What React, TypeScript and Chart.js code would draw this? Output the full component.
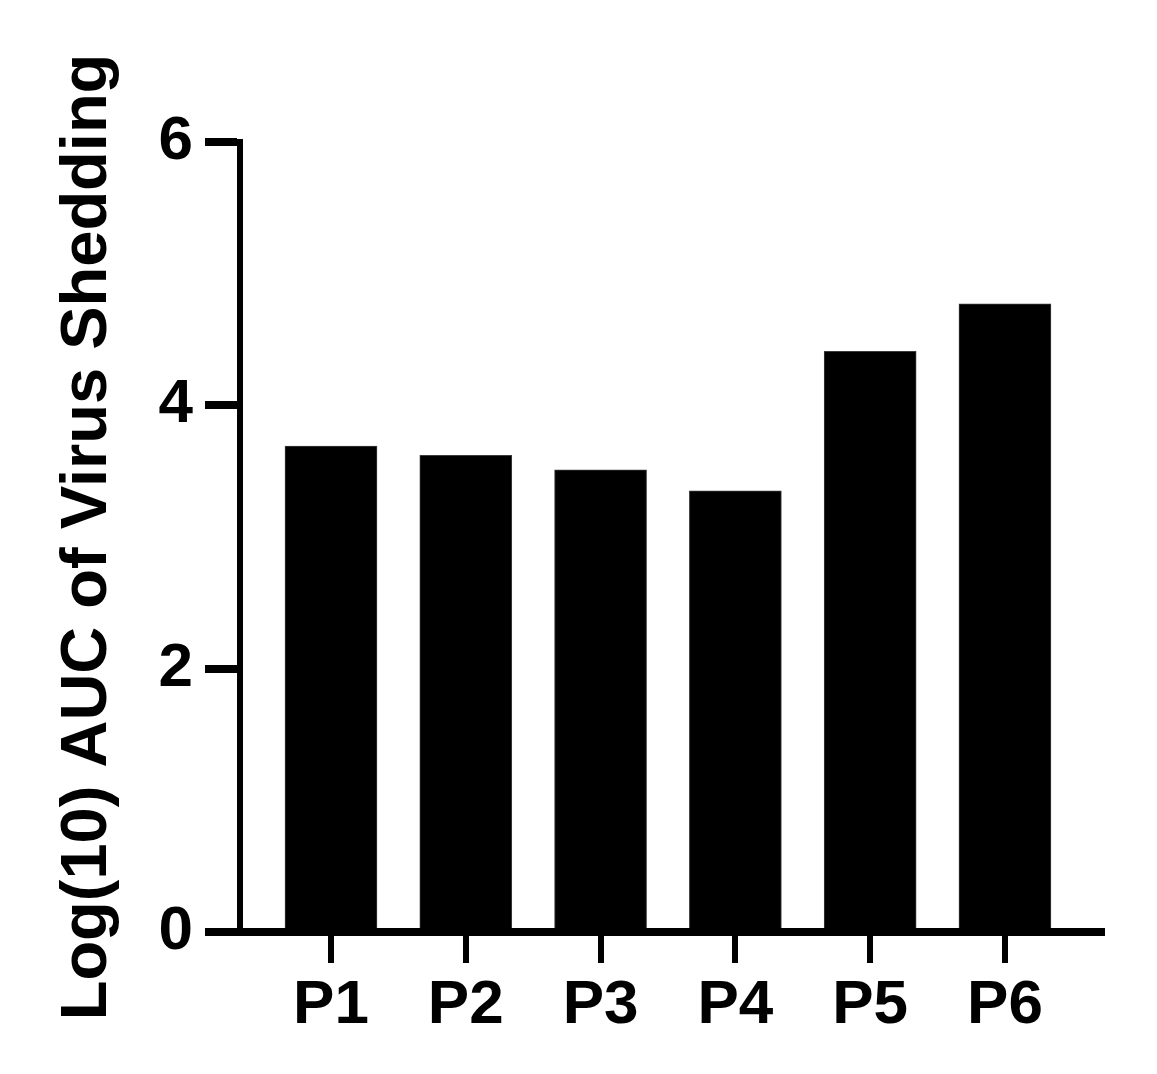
import React, { useEffect, useRef } from "react";
import { Chart, registerables } from "chart.js";

Chart.register(...registerables);

const categories = ["P1", "P2", "P3", "P4", "P5", "P6"];
const values = [3.69, 3.62, 3.51, 3.35, 4.41, 4.77];
const yTicks = [0, 2, 4, 6];
const yTitle = "Log(10) AUC of Virus Shedding";

const FONT = "'Liberation Sans', Arial, Helvetica, sans-serif";

export default function App() {
  const ref = useRef<HTMLCanvasElement | null>(null);

  useEffect(() => {
    if (!ref.current) return;
    const chart = new Chart(ref.current, {
      type: "bar",
      data: {
        datasets: [
          {
            data: values.map((v, i) => ({ x: i + 1, y: v })),
            backgroundColor: "#000000",
            borderColor: "#3a3a3a",
            borderWidth: 1,
            barThickness: 92,
          },
        ],
      },
      options: {
        responsive: false,
        animation: false,
        layout: { padding: { top: 134, right: 47, left: 0, bottom: 0 } },
        plugins: { legend: { display: false }, tooltip: { enabled: false } },
        scales: {
          x: {
            type: "linear",
            offset: false,
            min: 0.325,
            max: 6.72,
            afterFit: (s: any) => {
              s.height = 134;
            },
            afterBuildTicks: (s: any) => {
              s.ticks = categories.map((_, i) => ({ value: i + 1 }));
            },
            ticks: {
              callback: (v: any) => categories[Math.round(Number(v)) - 1] ?? "",
              color: "#000",
              font: { family: FONT, size: 62, weight: "bold" },
              padding: 6,
              maxRotation: 0,
              autoSkip: false,
            },
            grid: {
              offset: false,
              drawOnChartArea: false,
              drawTicks: true,
              tickLength: 31,
              tickWidth: 6,
              tickColor: "#000",
              lineWidth: 6,
              color: "#000",
            },
            border: { display: true, color: "#000", width: 8 },
          },
          y: {
            min: 0,
            max: 6,
            afterFit: (s: any) => {
              s.width = 232;
            },
            afterBuildTicks: (s: any) => {
              s.ticks = yTicks.map((v) => ({ value: v }));
            },
            ticks: {
              color: "#000",
              font: { family: FONT, size: 62, weight: "bold" },
              padding: 12,
            },
            grid: {
              drawOnChartArea: false,
              drawTicks: true,
              tickLength: 35,
              tickWidth: 8,
              tickColor: "#000",
              lineWidth: 8,
              color: "#000",
            },
            border: { display: true, color: "#000", width: 6 },
            title: {
              display: true,
              text: yTitle,
              color: "#000",
              font: { family: FONT, size: 65, weight: "bold", lineHeight: 1 },
              padding: { top: 48, bottom: 0 },
            },
          },
        },
      },
    });
    return () => chart.destroy();
  }, []);

  return (
    <canvas
      ref={ref}
      width={1141}
      height={1058}
      style={{ display: "block", width: 1141, height: 1058 }}
    />
  );
}
